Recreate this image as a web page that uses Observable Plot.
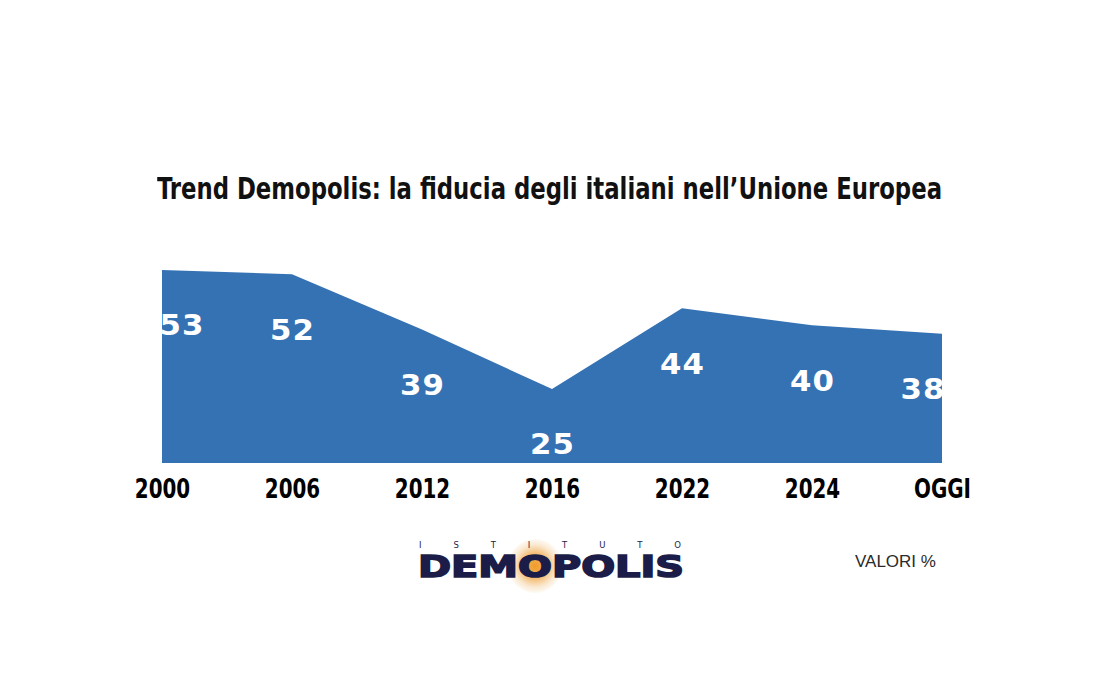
<!DOCTYPE html>
<html>
<head>
<meta charset="utf-8">
<script src="https://cdn.jsdelivr.net/npm/d3@7"></script>
<script src="https://cdn.jsdelivr.net/npm/@observablehq/plot@0.6"></script>
<style>
  html, body { margin: 0; padding: 0; background: #fff; }
  #page { position: relative; width: 1100px; height: 676px; overflow: hidden; background: #fff; }
  #title { position: absolute; left: 157px; top: 174px; transform-origin: 0 0;
    font-family: "Liberation Sans Narrow", "DejaVu Sans Condensed", sans-serif; font-weight: bold;
    font-size: 30px; line-height: 30px; color: #111; white-space: nowrap; }
  #chart { position: absolute; left: 0; top: 240px; }
  #istituto { position: absolute; left: 419px; top: 541px; width: 262px; display: flex; justify-content: space-between;
    font-family: "DejaVu Sans", sans-serif; font-size: 8.5px; line-height: 9px; color: #1b1d48; }
  #demo { position: absolute; left: 418px; top: 552px; font-family: "DejaVu Sans", sans-serif; font-weight: bold;
    font-size: 30px; line-height: 30px; color: #1b1d48; white-space: nowrap; transform-origin: 0 0;
    -webkit-text-stroke: 1.6px #1b1d48; }
  #glow { position: absolute; width: 54px; height: 54px; border-radius: 50%;
    background: radial-gradient(circle, rgba(240,155,40,1) 0%, rgba(240,160,55,0.8) 28%, rgba(240,190,120,0.35) 55%, rgba(255,255,255,0) 75%); }
  #valori { position: absolute; left: 855px; top: 553px; font-family: "Liberation Sans", Arial, sans-serif;
    font-size: 17px; line-height: 17px; color: #2a2a2a; white-space: nowrap; }
</style>
</head>
<body>
<div id="page">
  <div id="title">Trend Demopolis: la fiducia degli italiani nell’Unione Europea</div>
  <div id="chart"></div>
  <div id="glow"></div>
  <div id="istituto"><span>I</span><span>S</span><span>T</span><span>I</span><span>T</span><span>U</span><span>T</span><span>O</span></div>
  <div id="demo">DEM<span id="oLetter">O</span>POLIS</div>
  <div id="valori">VALORI %</div>
</div>
<script>
const labels = ["2000", "2006", "2012", "2016", "2022", "2024", "OGGI"];
const values = [53, 52, 39, 25, 44, 40, 38];
const yMin = 7.6;
const yMax = 53;

const data = labels.map((label, i) => ({label, value: values[i]}));

const labelStyle = {
  x: "label", y: "value", text: d => String(d.value), dy: 56,
  fill: "white", fontFamily: "DejaVu Sans", fontWeight: "bold", fontSize: 28
};

const plot = Plot.plot({
  width: 1100,
  height: 290,
  marginLeft: 160,
  marginRight: 157,
  marginTop: 30,
  marginBottom: 67,
  x: {type: "point", domain: labels, padding: 0, label: null, tickSize: 0, tickPadding: 15},
  y: {domain: [yMin, yMax], axis: null},
  style: {
    fontFamily: "'Liberation Sans Narrow', 'DejaVu Sans Condensed', sans-serif",
    fontWeight: "bold",
    fontSize: "27px",
    color: "#000",
    background: "transparent",
    overflow: "visible"
  },
  marks: [
    Plot.areaY(data, {x: "label", y1: yMin, y2: "value", fill: "#3572b4", curve: "linear"}),
    Plot.text(data.slice(1, -1), labelStyle),
    Plot.text(data.slice(0, 1), {...labelStyle, textAnchor: "start", dx: -3, clip: true}),
    Plot.text(data.slice(-1), {...labelStyle, textAnchor: "end", dx: 3, clip: true})
  ]
});
document.getElementById("chart").appendChild(plot);

function squeeze(t, s) {
  const tr = t.getAttribute("transform");
  if (tr) {
    t.setAttribute("transform", tr + ` scale(${s},1)`);
  } else {
    const x = +t.getAttribute("x") || 0, y = +t.getAttribute("y") || 0;
    t.removeAttribute("x"); t.removeAttribute("y");
    t.setAttribute("transform", `translate(${x},${y}) scale(${s},1)`);
  }
}
// condensed axis labels
plot.querySelectorAll('g[aria-label="x-axis tick label"] text').forEach(t => squeeze(t, 0.82));
// wide white value labels
plot.querySelectorAll('g[aria-label="text"] text').forEach(t => { t.style.letterSpacing = "1px"; squeeze(t, 1.1); });

// title fitted to its width
const title = document.getElementById("title");
title.style.transform = `scaleX(${785 / title.getBoundingClientRect().width})`;

// fit the logo word to its width and place the glow behind the O
const demo = document.getElementById("demo");
const w = demo.getBoundingClientRect().width;
demo.style.transform = `scaleX(${266 / w})`;
const o = document.getElementById("oLetter").getBoundingClientRect();
const page = document.getElementById("page").getBoundingClientRect();
const glow = document.getElementById("glow");
glow.style.left = (o.left - page.left + o.width / 2 - 27) + "px";
glow.style.top = (566 - 27) + "px";
</script>
</body>
</html>
